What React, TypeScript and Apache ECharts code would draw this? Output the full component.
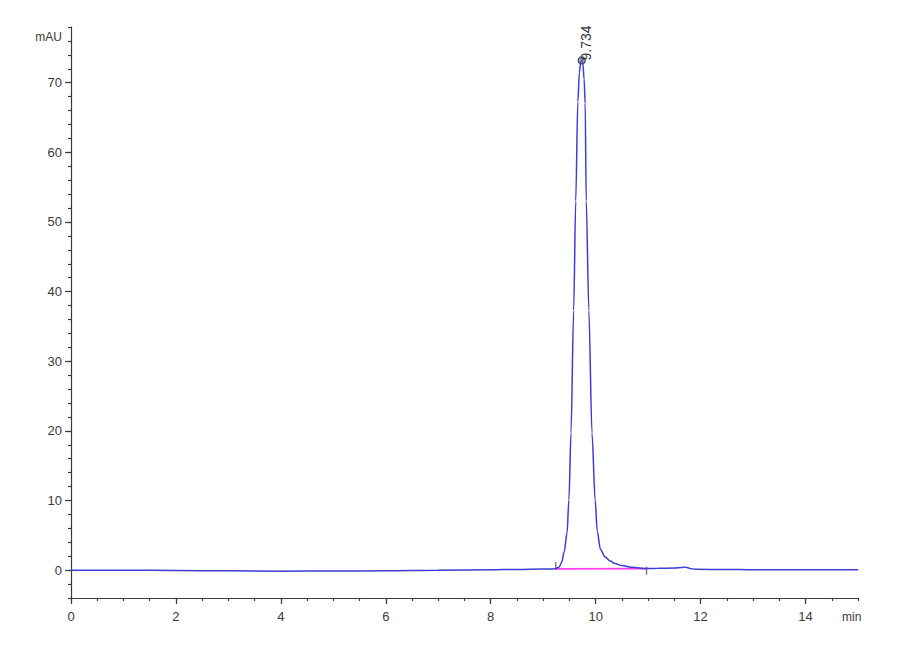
import { useEffect, useRef } from 'react'
import * as echarts from 'echarts'

// retention time (min) and absorbance (mAU)
const times = [
  0, 1, 2, 3, 4, 5, 6, 7, 8, 8.5, 9.0, 9.2, 9.3, 9.35, 9.4, 9.455, 9.49, 9.53, 9.58, 9.62,
  9.66, 9.69, 9.715, 9.734, 9.755, 9.78, 9.8, 9.82, 9.87, 9.93, 9.99, 10.03, 10.09, 10.18,
  10.28, 10.37, 10.5, 10.7, 10.97, 11.2, 11.5, 11.65, 11.72, 11.8, 11.9, 12.5, 13, 14, 15,
]
const absorbance = [
  0, 0, -0.05, -0.1, -0.15, -0.12, -0.1, -0.02, 0.05, 0.1, 0.15, 0.18, 0.4, 1.1, 2.6, 5.4, 10.1, 19.7, 37.3, 53,
  67.3, 71.5, 73.0, 73.2, 72.8, 70.5, 67.0, 53, 37.3, 19.7, 10.1, 5.6, 3.0, 1.9,
  1.3, 0.95, 0.65, 0.4, 0.22, 0.28, 0.3, 0.38, 0.42, 0.25, 0.12, 0.1, 0.05, 0.05, 0.05,
]

const peakTime = 9.734
const peakHeight = 73.2
const peakLabel = '9.734'

// integration baseline of the peak
const baseStart = [9.24, 0.18]
const baseEnd = [10.97, 0.22]

const xMajor = [0, 2, 4, 6, 8, 10, 12, 14]
const yMajor = [0, 10, 20, 30, 40, 50, 60, 70]

const FONT = "'Liberation Sans Narrow', 'Arial Narrow', 'Liberation Sans', Arial, sans-serif"
const AXIS = '#3a3a3a'

const App = () => {
  const chartRef = useRef<HTMLDivElement>(null)

  useEffect(() => {
    document.body.style.margin = '0'
    if (!chartRef.current) return
    const chart = echarts.init(chartRef.current, undefined, { renderer: 'svg' })

    const option = {
      animation: false,
      backgroundColor: '#ffffff',
      grid: { left: 71, right: 42, top: 27, bottom: 62, outerBoundsMode: 'none' },
      xAxis: [
        {
          type: 'value',
          min: 0,
          max: 15,
          name: 'min',
          nameLocation: 'end',
          nameGap: -16,
          nameTextStyle: {
            fontFamily: FONT, fontSize: 12, color: AXIS,
            align: 'left', verticalAlign: 'top', padding: [13, 0, 0, 0],
          },
          axisLine: { show: true, onZero: false, lineStyle: { color: AXIS, width: 1.2 } },
          axisTick: { show: true, length: 6, customValues: xMajor, lineStyle: { color: AXIS, width: 1.2 } },
          axisLabel: { customValues: xMajor, margin: 12, fontFamily: FONT, fontSize: 13, color: AXIS },
          splitLine: { show: false },
        },
        {
          type: 'value',
          min: 0,
          max: 15,
          interval: 0.5,
          position: 'bottom',
          axisLine: { show: false, onZero: false },
          axisTick: { show: true, length: 3, lineStyle: { color: AXIS, width: 1.2 } },
          axisLabel: { show: false },
          splitLine: { show: false },
        },
      ],
      yAxis: [
        {
          type: 'value',
          min: -4,
          max: 78,
          name: 'mAU',
          nameLocation: 'end',
          nameGap: -10,
          nameTextStyle: {
            fontFamily: FONT, fontSize: 12, color: AXIS,
            align: 'right', verticalAlign: 'middle', padding: [0, 9, 0, 0],
          },
          axisLine: { show: true, lineStyle: { color: AXIS, width: 1.2 } },
          axisTick: { show: true, length: 6, customValues: yMajor, lineStyle: { color: AXIS, width: 1.2 } },
          axisLabel: { customValues: yMajor, margin: 9, fontFamily: FONT, fontSize: 13, color: AXIS },
          splitLine: { show: false },
        },
        {
          type: 'value',
          min: -4,
          max: 78,
          interval: 2,
          position: 'left',
          axisLine: { show: false },
          axisTick: { show: true, length: 3, lineStyle: { color: AXIS, width: 1.2 } },
          axisLabel: { show: false },
          splitLine: { show: false },
        },
      ],
      series: [
        {
          name: 'baseline',
          type: 'line',
          data: [baseStart, baseEnd],
          symbol: 'none',
          lineStyle: { color: '#ff3cf0', width: 1.6 },
          z: 2,
        },
        {
          name: 'baseline marks',
          type: 'scatter',
          data: [
            { value: baseStart, symbolOffset: [0, -3] },
            { value: baseEnd, symbolOffset: [0, 2] },
          ],
          symbol: 'rect',
          symbolSize: [1.4, 8],
          itemStyle: { color: '#555555' },
          z: 3,
        },
        {
          name: 'signal',
          type: 'line',
          data: times.map((t, i) => [t, absorbance[i]]),
          symbol: 'none',
          smooth: 0.3,
          smoothMonotone: 'x',
          lineStyle: { color: '#3c3cd6', width: 1.5 },
          z: 4,
          markPoint: {
            symbol: 'circle',
            symbolSize: 7,
            itemStyle: { color: 'rgba(90,90,150,0.55)', borderColor: '#444466', borderWidth: 1.2 },
            label: {
              show: true,
              formatter: peakLabel,
              rotate: 90,
              position: 'inside',
              align: 'left',
              verticalAlign: 'middle',
              offset: [0, 4],
              fontFamily: FONT,
              fontSize: 14,
              color: '#333333',
            },
            data: [{ coord: [peakTime, peakHeight] }],
          },
        },
      ],
    }

    chart.setOption(option as Record<string, unknown>)

    const handleResize = () => chart.resize()
    window.addEventListener('resize', handleResize)

    return () => {
      window.removeEventListener('resize', handleResize)
      chart.dispose()
    }
  }, [])

  return <div ref={chartRef} style={{ width: '900px', height: '660px' }} />
}

export default App
